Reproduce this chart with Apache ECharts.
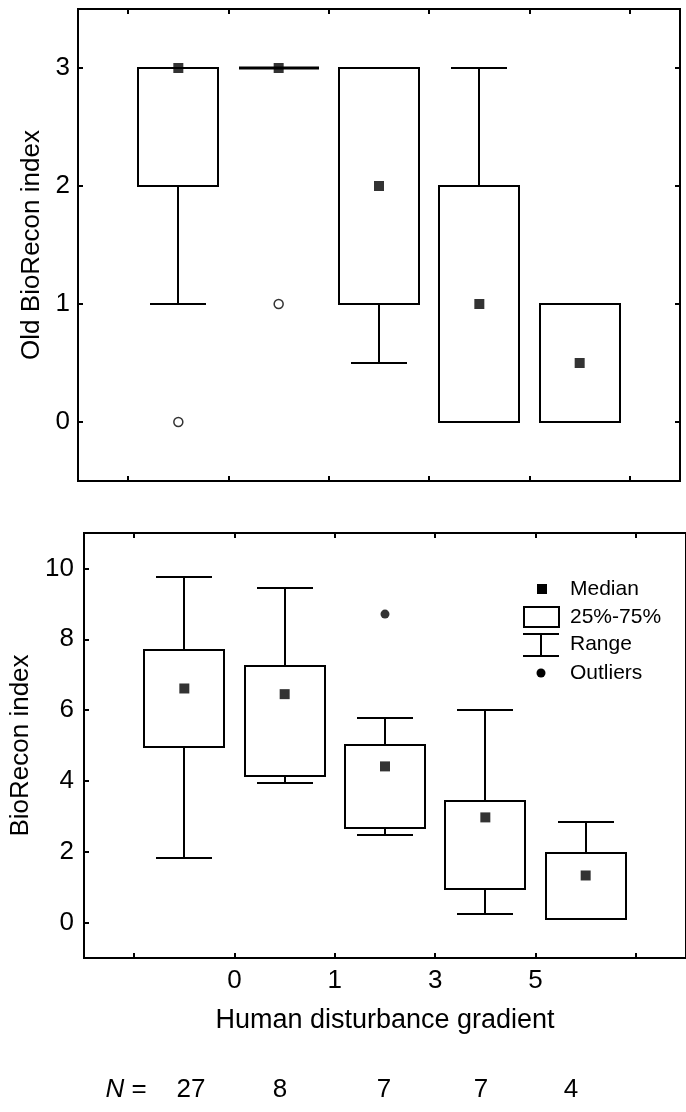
<!DOCTYPE html>
<html>
<head>
<meta charset="utf-8">
<script src="https://cdn.jsdelivr.net/npm/echarts@6/dist/echarts.min.js"></script>
<style>
html,body{margin:0;padding:0;background:#fff;}
#chart{width:686px;height:1112px;}
</style>
</head>
<body>
<div id="chart"></div>
<script>
// ---- data ----
const groupPositions = [1, 2, 3, 4, 5];
const gradientLabels = ['0', '1', '3', '5'];
const nValues = [27, 8, 7, 7, 4];
// Old BioRecon index (top panel)
const oldMin    = [1, 3, 0.5, 0, 0];
const oldQ1     = [2, 3, 1, 0, 0];
const oldMedian = [3, 3, 2, 1, 0.5];
const oldQ3     = [3, 3, 3, 2, 1];
const oldMax    = [3, 3, 3, 3, 1];
const oldOutliers = [[1, 0], [2, 1]];
const oldTicks = [0, 1, 2, 3];
// BioRecon index (bottom panel)
const newMin    = [1.81, 3.93, 2.46, 0.25, 0.1];
const newQ1     = [4.96, 4.13, 2.68, 0.94, 0.1];
const newMedian = [6.61, 6.45, 4.41, 2.97, 1.33];
const newQ3     = [7.70, 7.24, 5.01, 3.43, 1.96];
const newMax    = [9.75, 9.44, 5.79, 6.00, 2.83];
const newOutliers = [[3, 8.71]];
const newTicks = [0, 2, 4, 6, 8, 10];

// ---- layout / style ----
const FONT = "'Liberation Sans', Arial, sans-serif";
const boundaryTicks = [0.5, 1.5, 2.5, 3.5, 4.5, 5.5];
const labelledBoundaries = [1.5, 2.5, 3.5, 4.5];

function boxData(mn, q1, md, q3, mx) {
  return groupPositions.map((x, i) => [x, mn[i], q1[i], md[i], q3[i], mx[i]]);
}
function medianData(md) {
  return groupPositions.map((x, i) => [x, md[i]]);
}
function renderBox(params, api) {
  const x = api.value(0);
  const mn = api.value(1), q1 = api.value(2), q3 = api.value(4), mx = api.value(5);
  const half = api.size([0.8, 0])[0] / 2;
  const capHalf = api.size([0.56, 0])[0] / 2;
  const pMin = api.coord([x, mn]), pQ1 = api.coord([x, q1]);
  const pQ3 = api.coord([x, q3]), pMax = api.coord([x, mx]);
  const cx = Math.round(pMin[0]);
  const yMin = Math.round(pMin[1]), yQ1 = Math.round(pQ1[1]);
  const yQ3 = Math.round(pQ3[1]), yMax = Math.round(pMax[1]);
  const st = { stroke: '#000', lineWidth: 2, fill: null };
  return {
    type: 'group',
    children: [
      { type: 'line', shape: { x1: cx, y1: yQ3, x2: cx, y2: yMax }, style: st },
      { type: 'line', shape: { x1: cx, y1: yQ1, x2: cx, y2: yMin }, style: st },
      { type: 'line', shape: { x1: Math.round(cx - capHalf), y1: yMax, x2: Math.round(cx + capHalf), y2: yMax }, style: st },
      { type: 'line', shape: { x1: Math.round(cx - capHalf), y1: yMin, x2: Math.round(cx + capHalf), y2: yMin }, style: st },
      { type: 'rect', shape: { x: Math.round(cx - half), y: yQ3, width: Math.round(2 * half), height: yQ1 - yQ3 },
        style: { stroke: '#000', lineWidth: yQ1 === yQ3 ? 3 : 2, fill: '#fff' } }
    ]
  };
}

const tickStyle = { show: true, inside: true, length: 5, lineStyle: { color: '#000', width: 2 }, customValues: boundaryTicks };
function xAxisDef(grid, pos, extra) {
  return Object.assign({
    type: 'value', gridIndex: grid, position: pos, min: 0, max: 6,
    axisLine: { show: false, onZero: false }, axisTick: tickStyle, splitLine: { show: false },
    axisLabel: { show: false }
  }, extra || {});
}
function yAxisDef(grid, pos, mn, mx, ticks, extra) {
  return Object.assign({
    type: 'value', gridIndex: grid, position: pos, min: mn, max: mx,
    axisLine: { show: false, onZero: false }, splitLine: { show: false },
    axisTick: { show: true, inside: true, length: 5, lineStyle: { color: '#000', width: 2 }, customValues: ticks },
    axisLabel: { show: false }
  }, extra || {});
}

const option = {
  animation: false,
  backgroundColor: '#fff',
  textStyle: { fontFamily: FONT, color: '#000' },
  grid: [
    { left: 78, top: 9, width: 602, height: 472, show: true, borderColor: '#000', borderWidth: 2, backgroundColor: 'transparent' },
    { left: 82, top: 533, width: 612, height: 425, show: true, borderColor: '#000', borderWidth: 2, backgroundColor: 'transparent' }
  ],
  xAxis: [
    xAxisDef(0, 'bottom'),
    xAxisDef(0, 'top'),
    xAxisDef(1, 'bottom', {
      axisLabel: {
        show: true, customValues: labelledBoundaries, margin: 10,
        fontSize: 26, color: '#000', fontFamily: FONT,
        formatter: function (v) { return gradientLabels[labelledBoundaries.indexOf(v)]; }
      },
      name: 'Human disturbance gradient', nameLocation: 'middle', nameGap: 49,
      nameTextStyle: { fontSize: 27, color: '#000', fontFamily: FONT }
    }),
    xAxisDef(1, 'top')
  ],
  yAxis: [
    yAxisDef(0, 'left', -0.5, 3.5, oldTicks, {
      axisLabel: { show: true, customValues: oldTicks, margin: 8, fontSize: 26, color: '#000', fontFamily: FONT },
      name: 'Old BioRecon index', nameLocation: 'middle', nameGap: 32,
      nameTextStyle: { fontSize: 26, color: '#000', fontFamily: FONT }
    }),
    yAxisDef(0, 'right', -0.5, 3.5, oldTicks),
    yAxisDef(1, 'left', -1, 11, newTicks, {
      axisLabel: { show: true, customValues: newTicks, margin: 10, fontSize: 26, color: '#000', fontFamily: FONT },
      name: 'BioRecon index', nameLocation: 'middle', nameGap: 50,
      nameTextStyle: { fontSize: 26, color: '#000', fontFamily: FONT }
    })
  ],
  series: [
    { type: 'custom', xAxisIndex: 0, yAxisIndex: 0, renderItem: renderBox,
      encode: { x: 0, y: [1, 2, 3, 4, 5] }, data: boxData(oldMin, oldQ1, oldMedian, oldQ3, oldMax), z: 2 },
    { type: 'scatter', xAxisIndex: 0, yAxisIndex: 0, symbol: 'rect', symbolSize: 10,
      itemStyle: { color: '#000' }, data: medianData(oldMedian), z: 5 },
    { type: 'scatter', xAxisIndex: 0, yAxisIndex: 0, symbol: 'circle', symbolSize: 9,
      itemStyle: { color: '#fff', borderColor: '#000', borderWidth: 1.5 }, data: oldOutliers, z: 5 },
    { type: 'custom', xAxisIndex: 2, yAxisIndex: 2, renderItem: renderBox,
      encode: { x: 0, y: [1, 2, 3, 4, 5] }, data: boxData(newMin, newQ1, newMedian, newQ3, newMax), z: 2 },
    { type: 'scatter', xAxisIndex: 2, yAxisIndex: 2, symbol: 'rect', symbolSize: 10,
      itemStyle: { color: '#000' }, data: medianData(newMedian), z: 5 },
    { type: 'scatter', xAxisIndex: 2, yAxisIndex: 2, symbol: 'circle', symbolSize: 9,
      itemStyle: { color: '#000' }, data: newOutliers, z: 5 }
  ],
  graphic: { elements: [] }
};

// legend (drawn as graphic)
const lg = option.graphic.elements;
const lgText = (t, y) => ({ type: 'text', x: 570, y: y, style: { text: t, fontSize: 21, fontFamily: FONT, fill: '#000', verticalAlign: 'middle', align: 'left' } });
lg.push({ type: 'rect', shape: { x: 537, y: 584, width: 10, height: 10 }, style: { fill: '#000' } });
lg.push(lgText('Median', 589));
lg.push({ type: 'rect', shape: { x: 524, y: 607, width: 35, height: 20 }, style: { fill: '#fff', stroke: '#000', lineWidth: 2 } });
lg.push(lgText('25%-75%', 617));
lg.push({ type: 'line', shape: { x1: 523, y1: 634, x2: 559, y2: 634 }, style: { stroke: '#000', lineWidth: 2 } });
lg.push({ type: 'line', shape: { x1: 523, y1: 656, x2: 559, y2: 656 }, style: { stroke: '#000', lineWidth: 2 } });
lg.push({ type: 'line', shape: { x1: 541, y1: 634, x2: 541, y2: 656 }, style: { stroke: '#000', lineWidth: 2 } });
lg.push(lgText('Range', 644));
lg.push({ type: 'circle', shape: { cx: 541, cy: 673, r: 4.5 }, style: { fill: '#000' } });
lg.push(lgText('Outliers', 673));

// N row
const nRowX = [191, 280, 384, 481, 571];
const nRowY = 1090;
lg.push({ type: 'text', x: 126, y: nRowY, style: { text: '{i|N} =', fontSize: 26, fontFamily: FONT, fill: '#000', align: 'center', verticalAlign: 'middle',
  rich: { i: { fontStyle: 'italic', fontSize: 26, fontFamily: FONT, fill: '#000' } } } });
nValues.forEach((n, i) => {
  lg.push({ type: 'text', x: nRowX[i], y: nRowY, style: { text: String(n), fontSize: 26, fontFamily: FONT, fill: '#000', align: 'center', verticalAlign: 'middle' } });
});

const chart = echarts.init(document.getElementById('chart'), null, { renderer: 'canvas' });
chart.setOption(option);
</script>
</body>
</html>
